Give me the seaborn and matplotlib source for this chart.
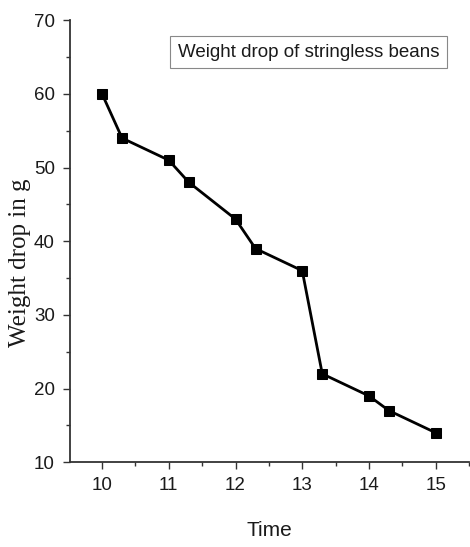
import matplotlib
matplotlib.use("Agg")
import matplotlib.pyplot as plt
from matplotlib.ticker import MultipleLocator
import seaborn as sns
import pandas as pd

time = [10, 10.3, 11, 11.3, 12, 12.3, 13, 13.3, 14, 14.3, 15]
weight = [60, 54, 51, 48, 43, 39, 36, 22, 19, 17, 14]
x_ticks = [10, 11, 12, 13, 14, 15]
y_ticks = [10, 20, 30, 40, 50, 60, 70]

df = pd.DataFrame({"Time": time, "Weight": weight})

sns.set_theme(style="ticks")
plt.rcParams["font.family"] = ["Liberation Sans", "DejaVu Sans"]

fig = plt.figure(figsize=(4.70, 5.47), dpi=100)
ax = fig.add_axes([0.149, 0.155, 0.849, 0.808])

sns.lineplot(data=df, x="Time", y="Weight", ax=ax, color="black",
             linewidth=2.0, marker="s", markersize=7.5, markeredgecolor="black",
             markerfacecolor="black")

ax.set_xlim(9.52, 15.5)
ax.set_ylim(10, 70)
ax.set_xticks(x_ticks)
ax.set_yticks(y_ticks)
ax.xaxis.set_minor_locator(MultipleLocator(0.5))
ax.yaxis.set_minor_locator(MultipleLocator(5))
ax.tick_params(which="major", direction="out", length=5, width=1, colors="#333333",
               labelsize=13.5, labelcolor="#1a1a1a", pad=6)
ax.tick_params(which="minor", direction="out", length=3, width=1, colors="#333333")

for side in ("top", "right"):
    ax.spines[side].set_visible(False)
for side in ("left", "bottom"):
    ax.spines[side].set_linewidth(1.3)
    ax.spines[side].set_color("#333333")

ax.set_xlabel("Time", fontsize=15, color="#1a1a1a")
ax.xaxis.set_label_coords(0.5, -0.133)
ax.set_ylabel("Weight drop in g", fontsize=18, color="#1a1a1a",
              family=["Liberation Serif", "DejaVu Serif"], fontweight="medium")
ax.yaxis.set_label_coords(-0.098, 0.452)

ax.text(0.597, 0.928, "Weight drop of stringless beans", transform=ax.transAxes,
        fontsize=13.5, color="#1a1a1a", va="center", ha="center",
        bbox=dict(boxstyle="square,pad=0.42", facecolor="white",
                  edgecolor="#888888", linewidth=0.8))

fig.savefig("out.png", dpi=100)
